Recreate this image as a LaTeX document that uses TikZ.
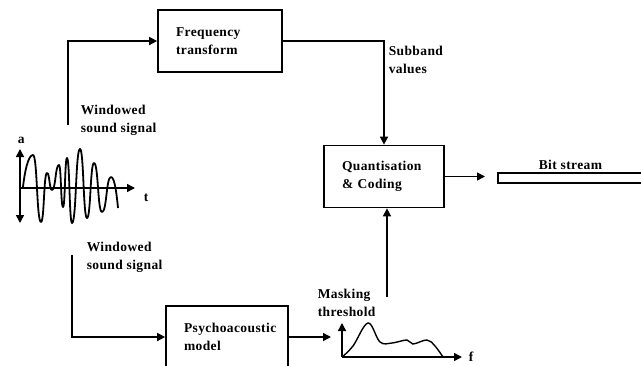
\documentclass[tikz,border=0pt]{standalone}
\usepackage{fontspec}
\setmainfont{Liberation Serif}[LetterSpace=3]
\usetikzlibrary{arrows.meta}
\begin{document}
\begin{tikzpicture}[x=1pt,y=-1pt, line width=1.5pt,
  arr/.style={-{Triangle[length=8pt,width=8pt]}},
  darr/.style={{Triangle[length=8pt,width=8pt]}-{Triangle[length=8pt,width=8pt]}},
  lbl/.style={anchor=base west, inner sep=0pt, font=\fontsize{13.5}{17.5}\selectfont\bfseries, align=left},
  box/.style={draw, line width=1.7pt, inner xsep=18pt, inner ysep=0pt, minimum height=62pt, align=left, font=\fontsize{13.5}{18}\selectfont\bfseries}]
\useasboundingbox (0,0) rectangle (641,365);
\clip (0,0) rectangle (641,365);
% boxes
\node[box, text width=88pt] (ft) at (220,41) {Frequency\\transform};
\node[box, text width=84pt] (qc) at (384,176.5) {Quantisation\\\& Coding};
\node[box, text width=86pt] (pm) at (227,337) {Psychoacoustic\\model};
\node[draw, line width=1.5pt, minimum width=160pt, minimum height=10pt, inner sep=0pt, anchor=north west] (bs) at (497,172) {};
\node[lbl] (bsl) at (538,169) {Bit stream};
% labels (base = last line)
\node[lbl] (sv) at (388,73) {Subband\\values};
\node[lbl] (ws1) at (80,132) {Windowed\\sound signal};
\node[lbl] (ws2) at (86,269) {Windowed\\sound signal};
\node[lbl] (mtl) at (317,316) {Masking\\threshold};
\node[lbl] (la) at (17,143) {a};
\node[lbl] (lt) at (143,201) {t};
\node[lbl] (lf) at (468,361) {f};
% coordinates
\coordinate (w1) at (68,125);
\coordinate (w2) at (72,255);
\coordinate (mt) at (387,297);
\coordinate (spin) at (331,340);
\coordinate (o1) at (20,188);
\coordinate (o2) at (342,357);
% connectors
\draw[arr] (w1) |- (ft.west);
\draw[arr] (ft.east) -| (qc.north);
\draw[arr] (qc.east) -- ([xshift=-12pt]bs.west |- qc.east);
\draw[arr] (w2) |- (pm.west);
\draw[arr] (pm.east) -- (pm.east -| spin);
\draw[arr] (mt) -- (mt |- qc.south);
% waveform
\draw[darr] (20,149) -- (20,223);
\draw[arr] (o1) -- (135,188);
\draw[line width=1.8pt, line join=round] (23,187)
  .. controls +(1.5,-14) and +(-5,0) .. (33,155)
  .. controls +(4.4,0) and +(-4.4,0) .. (41,222)
  .. controls +(3.3,0) and +(-3.3,0) .. (47,173)
  .. controls +(2.7,0) and +(-2.7,0) .. (52,190)
  .. controls +(3.8,0) and +(-3.8,0) .. (59,165)
  .. controls +(2.2,0) and +(-2.2,0) .. (63,207)
  .. controls +(2.2,0) and +(-2.2,0) .. (67,158)
  .. controls +(2.7,0) and +(-2.7,0) .. (72,223)
  .. controls +(4.4,0) and +(-4.4,0) .. (80,149)
  .. controls +(3.8,0) and +(-3.8,0) .. (87,218)
  .. controls +(3.8,0) and +(-3.8,0) .. (94,163)
  .. controls +(4.4,0) and +(-4.4,0) .. (102,212)
  .. controls +(4.9,0) and +(-4.9,0) .. (111,177)
  .. controls +(4,0) and +(-1,-10) .. (118,208);
% spectrum
\draw[arr] (o2) -- (342,323);
\draw[arr] (o2) -- (462,357);
\draw[line width=1.4pt] plot[smooth, tension=0.6] coordinates {(342,357) (353,346) (368,323) (380,342) (392,343) (407,340) (413,344) (427,340) (435,346) (443,357)};
\end{tikzpicture}
\end{document}
